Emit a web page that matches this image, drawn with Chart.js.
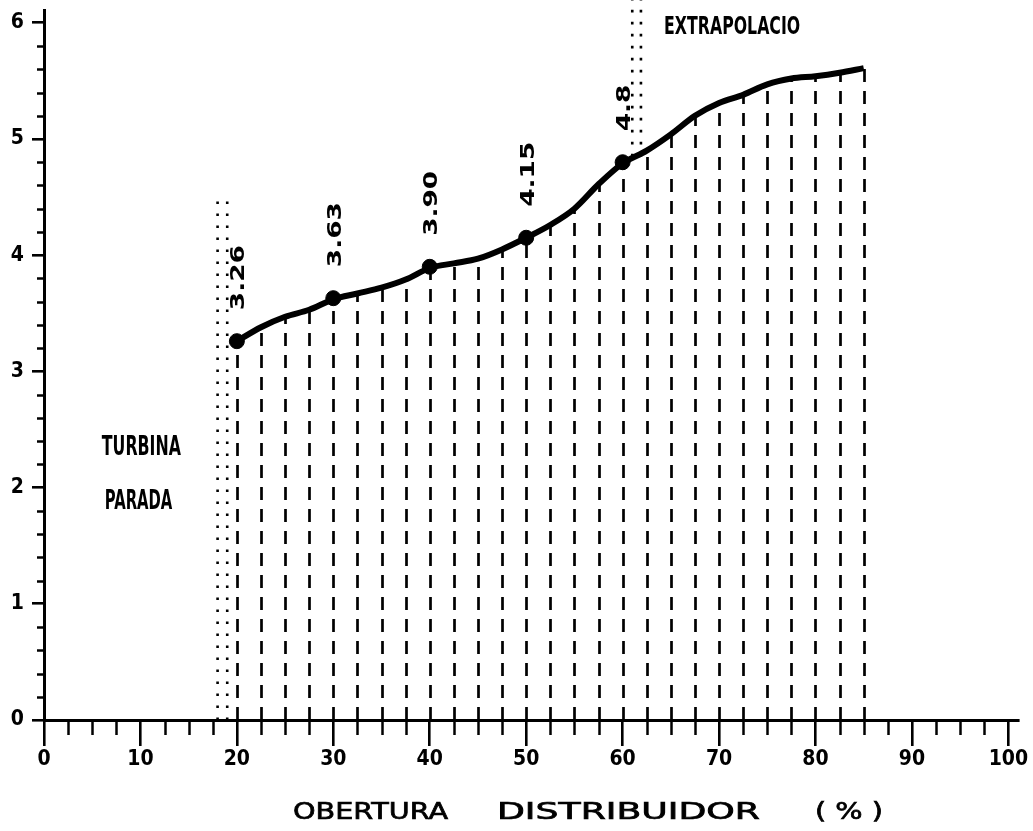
<!DOCTYPE html>
<html>
<head>
<meta charset="utf-8">
<script src="https://cdn.jsdelivr.net/npm/chart.js@4.4.1/dist/chart.umd.min.js"></script>
<style>
  html, body { margin: 0; padding: 0; background: #fff; }
  #wrap { width: 1033px; height: 831px; }
</style>
</head>
<body>
<div id="wrap"><canvas id="c" width="1033" height="831"></canvas></div>
<script>
// ---- data ----
const xCategories = [20, 22.5, 25, 27.5, 30, 32.5, 35, 37.5, 40, 42.5, 45, 47.5, 50,
                     52.5, 55, 57.5, 60, 62.5, 65, 67.5, 70, 72.5, 75, 77.5, 80, 82.5, 85];
const curveValues = [3.26, 3.38, 3.47, 3.53, 3.62, 3.67, 3.72, 3.79, 3.89, 3.93, 3.97, 4.05, 4.15,
                     4.26, 4.40, 4.61, 4.79, 4.90, 5.04, 5.20, 5.31, 5.38, 5.47, 5.52, 5.54, 5.57, 5.61];
const markerX = [20, 30, 40, 50, 60];
const markerValues = [3.26, 3.63, 3.90, 4.15, 4.80];
const markerLabels = ['3.26', '3.63', '3.90', '4.15', '4.8'];
const xTickLabels = [0, 10, 20, 30, 40, 50, 60, 70, 80, 90, 100];
const yTickLabels = [0, 1, 2, 3, 4, 5, 6];
const stopLineX = [18.0, 19.0];
const stopLineRange = [0, 4.5];
const extrapLineX = [61.0, 61.9];
const extrapLineRange = [4.85, 6.2];
const xAxisTitle = ['OBERTURA', 'DISTRIBUIDOR', '( % )'];
const notes = [
  { text: 'TURBINA', x: 6.0, y: 2.36 },
  { text: 'PARADA', x: 6.3, y: 1.90 },
  { text: 'EXTRAPOLACIO', x: 64.3, y: 5.98 }
];

// ---- helpers ----
function fitText(ctx, text, left, yCenter, width, size, font, stroke) {
  ctx.save();
  ctx.font = font;
  const w = ctx.measureText(text).width;
  ctx.translate(left, yCenter + size * 0.36);
  ctx.scale(width / w, 1);
  ctx.textAlign = 'left';
  ctx.textBaseline = 'alphabetic';
  ctx.fillStyle = '#000';
  ctx.fillText(text, 0, 0);
  if (stroke) { ctx.lineWidth = stroke; ctx.strokeStyle = '#000'; ctx.strokeText(text, 0, 0); }
  ctx.restore();
}

const dottedStyle = { borderColor: '#000', borderWidth: 2.6, borderDash: [2.6, 9.4], pointRadius: 0, fill: false, tension: 0, clip: false };

const decorPlugin = {
  id: 'decor',
  beforeDatasetsDraw(chart) {
    const ctx = chart.ctx, xs = chart.scales.x, ys = chart.scales.y;
    const y0 = ys.getPixelForValue(0);
    // dashed verticals from the axis up to the curve
    ctx.save();
    ctx.strokeStyle = '#000';
    ctx.lineWidth = 2.7;
    ctx.setLineDash([13, 9]);
    xCategories.forEach((xv, i) => {
      const px = Math.round(xs.getPixelForValue(xv)) + 0.5;
      ctx.beginPath();
      ctx.moveTo(px, y0);
      ctx.lineTo(px, ys.getPixelForValue(curveValues[i]));
      ctx.stroke();
    });
    ctx.restore();
  },
  afterDraw(chart) {
    const ctx = chart.ctx, xs = chart.scales.x, ys = chart.scales.y;
    const y0 = ys.getPixelForValue(0);
    const xl = xs.getPixelForValue(0);
    ctx.save();
    ctx.strokeStyle = '#000';
    ctx.lineWidth = 2.5;
    // minor ticks on x (every 2.5)
    for (let v = 2.5; v < 100; v += 2.5) {
      if (Math.abs(v % 10) < 1e-6) continue;
      const px = Math.round(xs.getPixelForValue(v)) + 0.5;
      ctx.beginPath(); ctx.moveTo(px, y0); ctx.lineTo(px, y0 + 15); ctx.stroke();
    }
    // minor ticks on y (every 0.2)
    for (let k = 1; k < 30; k++) {
      if (k % 5 === 0) continue;
      const py = Math.round(ys.getPixelForValue(k * 0.2)) + 0.5;
      ctx.beginPath(); ctx.moveTo(xl, py); ctx.lineTo(xl - 7, py); ctx.stroke();
    }
    ctx.restore();

    // rotated value labels above markers
    ctx.save();
    ctx.font = 'bold 20px "DejaVu Sans"';
    const sx = 65 / ctx.measureText('3.26').width;
    markerX.forEach((xv, i) => {
      const px = xs.getPixelForValue(xv);
      const py = ys.getPixelForValue(markerValues[i]);
      ctx.save();
      ctx.translate(px, py - 31);
      ctx.rotate(-Math.PI / 2);
      ctx.scale(sx, 1);
      ctx.textAlign = 'left';
      ctx.textBaseline = 'alphabetic';
      ctx.fillStyle = '#000';
      ctx.fillText(markerLabels[i], 0, 7.5);
      ctx.restore();
    });
    ctx.restore();

    // annotations
    const wT = 80 / 7; // px per character
    notes.forEach(n => {
      const size = n.text === 'EXTRAPOLACIO' ? 25 : 27;
      fitText(ctx, n.text, xs.getPixelForValue(n.x), ys.getPixelForValue(n.y),
              n.text.length * wT - 1, size, 'bold ' + size + 'px "DejaVu Sans"');
    });

    // x-axis title
    const tf = '23px "DejaVu Sans"';
    fitText(ctx, xAxisTitle[0], 293, 811, 155, 23, tf, 0.7);
    fitText(ctx, xAxisTitle[1], 497, 811, 263, 23, tf, 0.7);
    fitText(ctx, xAxisTitle[2], 815, 811, 68, 23, tf, 0.7);
  }
};

const tickFont = { family: "'Liberation Sans Narrow', 'DejaVu Sans Condensed', sans-serif", size: 21, weight: 'bold' };

new Chart(document.getElementById('c'), {
  type: 'line',
  data: {
    datasets: [
      {
        data: xCategories.map((x, i) => ({ x, y: curveValues[i] })),
        borderColor: '#000', borderWidth: 6, pointRadius: 0, fill: false,
        cubicInterpolationMode: 'monotone'
      },
      {
        data: markerX.map((x, i) => ({ x, y: markerValues[i] })),
        showLine: false, pointRadius: 7.5, pointStyle: 'circle',
        pointBackgroundColor: '#000', pointBorderColor: '#000', pointBorderWidth: 1
      },
      Object.assign({ data: stopLineRange.map(y => ({ x: stopLineX[0], y })) }, dottedStyle),
      Object.assign({ data: stopLineRange.map(y => ({ x: stopLineX[1], y })) }, dottedStyle),
      Object.assign({ data: extrapLineRange.map(y => ({ x: extrapLineX[0], y })) }, dottedStyle),
      Object.assign({ data: extrapLineRange.map(y => ({ x: extrapLineX[1], y })) }, dottedStyle)
    ]
  },
  options: {
    responsive: false,
    animation: false,
    events: [],
    layout: { padding: { top: 10, right: 15, bottom: 0, left: 0 } },
    plugins: { legend: { display: false }, tooltip: { enabled: false }, title: { display: false } },
    scales: {
      x: {
        type: 'linear', min: 0, max: 101,
        afterBuildTicks(s) { s.ticks = xTickLabels.map(v => ({ value: v })); },
        afterFit(s) { s.height = 111; s.paddingLeft = 0; s.paddingRight = 0; },
        grid: { drawOnChartArea: false, drawTicks: true, tickLength: 26, color: '#000', lineWidth: 2.6 },
        border: { display: true, color: '#000', width: 3 },
        ticks: { color: '#000', font: tickFont, padding: 1, maxRotation: 0, autoSkip: false }
      },
      y: {
        type: 'linear', min: 0, max: 6.11,
        afterBuildTicks(s) { s.ticks = yTickLabels.map(v => ({ value: v })); },
        afterFit(s) { s.width = 44; s.paddingTop = 0; s.paddingBottom = 0; },
        grid: { drawOnChartArea: false, drawTicks: true, tickLength: 12, color: '#000', lineWidth: 2.6 },
        border: { display: true, color: '#000', width: 3 },
        ticks: { color: '#000', font: tickFont, padding: 8, autoSkip: false }
      }
    }
  },
  plugins: [decorPlugin]
});
</script>
</body>
</html>
